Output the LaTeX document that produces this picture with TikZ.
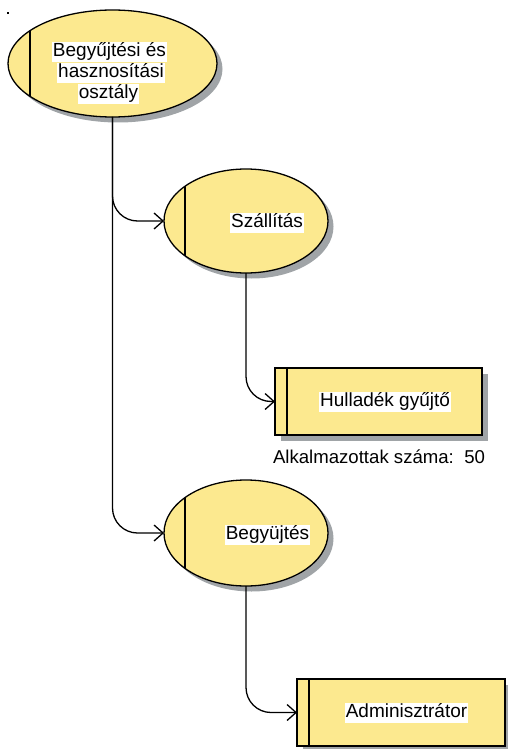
\documentclass[tikz,border=0pt]{standalone}
\usepackage{fontspec}
\setmainfont{Liberation Sans}
\usetikzlibrary{shapes.geometric,shadows,arrows.meta}
\definecolor{fillY}{HTML}{FCE98F}
\definecolor{shadowG}{HTML}{A0A4A7}
\begin{document}
\begin{tikzpicture}[x=1pt,y=-1pt,
  shapebase/.style={draw=black, line width=1.3pt, fill=fillY,
    drop shadow={shadow xshift=5.5pt, shadow yshift=-5.5pt, fill=shadowG, opacity=1},
    inner sep=0pt, outer sep=0pt},
  ell/.style={shapebase, ellipse},
  boxshape/.style={shapebase, rectangle},
  bar/.style={path picture={\draw[line width=1.3pt]
    ([xshift=#1]path picture bounding box.north west) --
    ([xshift=#1]path picture bounding box.south west);}},
  lbl/.style={fill=white, inner sep=1pt, text height=13.5pt, text depth=4.5pt,
    font=\fontsize{19}{22}\selectfont},
  plain/.style={inner sep=0pt, font=\fontsize{18.6}{22}\selectfont},
  conn/.style={draw=black, line width=1.3pt, rounded corners=25pt,
    -{Straight Barb[length=9pt,width=16pt,line width=1.3pt]}}
]
\useasboundingbox (0,0) rectangle (508,749);
\fill[black] (6.5,12.5) rectangle (8.5,14.5);

\node[ell, minimum width=209pt, minimum height=107pt, bar=22pt] (top) at (112.5,63.5) {};
\node[ell, minimum width=164pt, minimum height=104pt, bar=21pt] (szall) at (246,221) {};
\node[ell, minimum width=164pt, minimum height=106pt, bar=21pt] (begy) at (246,533) {};
\node[boxshape, minimum width=207pt, minimum height=67pt, bar=12pt] (hull) at (378.5,401.5) {};
\node[boxshape, minimum width=208pt, minimum height=67pt, bar=12pt] (admin) at (401,712.5) {};

\node[lbl, anchor=base] (topA) at (109.5,57) {Begyűjtési és};
\node[lbl, anchor=base] (topB) at (111,78) {hasznosítási};
\node[lbl, anchor=base] (topC) at (108.5,99) {osztály};
\node[lbl] (szallT) at (267,223) {Szállítás};
\node[lbl] (begyT) at (267.5,535) {Begyüjtés};
\node[lbl] (hullT) at (385,402) {Hulladék gyűjtő};
\node[lbl] (adminT) at (406.5,712.5) {Adminisztrátor};
\node[plain, anchor=base] (alk) at (379,463) {Alkalmazottak száma:\ \ 50};

\draw[conn] (top.south) |- (szall.west);
\draw[conn] (top.south) |- (begy.west);
\draw[conn] (szall.south) |- (hull.west);
\draw[conn] (begy.south) |- (admin.west);
\end{tikzpicture}
\end{document}
